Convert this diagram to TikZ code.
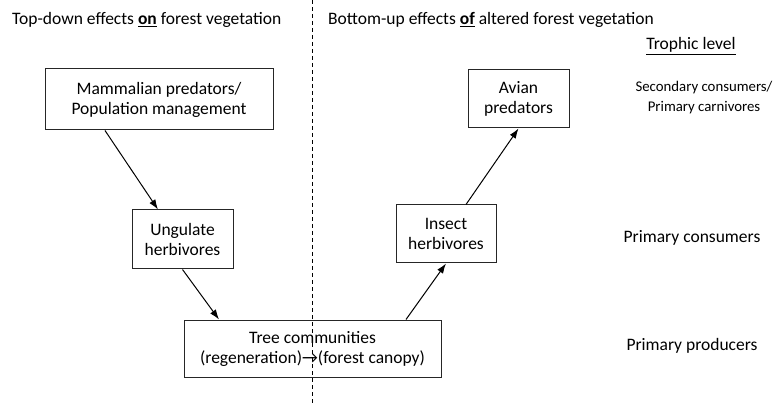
\documentclass[tikz,border=0pt]{standalone}
\usepackage{fontspec}
\setmainfont{Carlito}
\usetikzlibrary{arrows.meta}

\begin{document}
\begin{tikzpicture}[x=1pt,y=-1pt,
        every node/.style={font=\fontsize{17.5}{20}\selectfont},
        box/.style={draw=black!85,line width=1pt,align=center,inner sep=0pt},
        lab/.style={align=center,inner sep=0pt},
        link/.style={line width=1pt,-{Latex[length=10pt,width=7pt]}}]
        \useasboundingbox (0,0) rectangle (774,406);
        \coordinate (top) at (312,0);
        \coordinate (bottom) at (312,406);
        \draw[line width=0.9pt,dash pattern=on 4pt off 3pt] (top) -- (bottom);
        \node[lab,anchor=west] (titleL) at (12,20) {Top-down effects \underline{\textbf{on}} forest vegetation};
        \node[lab,anchor=west] (titleR) at (328,20) {Bottom-up effects \underline{\textbf{of}} altered forest vegetation};
        \node[lab] (trophic) at (691,46) {\underline{Trophic level}};
        \node[box,minimum width=228pt,minimum height=61pt] (mammal) at (159,99.5) {Mammalian predators/\\Population management};
        \node[box,minimum width=101pt,minimum height=59pt] (ungulate) at (182.5,239.5) {Ungulate\\herbivores};
        \node[box,minimum width=257pt,minimum height=57pt] (tree) at (312.5,348.5) {Tree communities\\(regeneration)\char"2192(forest canopy)};
        \node[box,minimum width=100pt,minimum height=58pt] (insect) at (446,234) {Insect\\herbivores};
        \node[box,minimum width=101pt,minimum height=58pt] (avian) at (518.5,99) {Avian\\predators};
        \node[lab,font=\fontsize{14.8}{20}\selectfont] (second) at (704,98) {Secondary consumers/\\Primary carnivores};
        \node[lab] (consumer) at (692,238) {Primary consumers};
        \node[lab] (producer) at (692,346) {Primary producers};
        \draw[link] ([xshift=-54pt]mammal.south) -- ([xshift=-24.5pt]ungulate.north);
        \draw[link] (ungulate.south) -- ([xshift=-93.5pt]tree.north);
        \draw[link] ([xshift=93.5pt]tree.north) -- (insect.south);
        \draw[link] ([xshift=20pt]insect.north) -- (avian.south);
\end{tikzpicture}
\end{document}
